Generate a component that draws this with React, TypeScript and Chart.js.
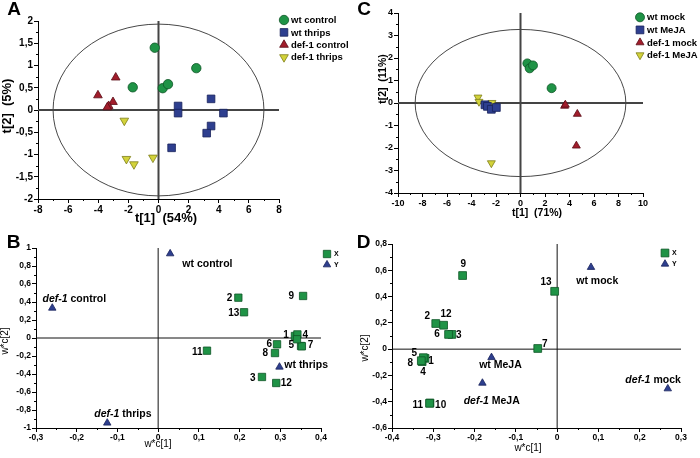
import React, { useEffect, useRef } from 'react';
import { Chart, registerables } from 'chart.js';
import { drawPoint } from 'chart.js/helpers';

Chart.register(...registerables);

const FAMILY = "'Liberation Sans', Arial, Helvetica, sans-serif";
const GREEN = '#1f9346';
const GREEN_B = '#0e5526';
const BLUE = '#2e3f8f';
const BLUE_B = '#18225a';
const RED = '#a11d2b';
const RED_B = '#5a0d16';
const YELLOW = '#d2d23a';
const YELLOW_B = '#7d7d1a';

// ---------------- Panel A (scores) ----------------
const aSeriesLabels = ['wt control', 'wt thrips', 'def-1 control', 'def-1 thrips'];
const aWtControlX = [-0.25, 2.51, -1.71, 0.28, 0.63];
const aWtControlY = [1.40, 0.94, 0.51, 0.49, 0.58];
const aWtThripsX = [1.30, 1.30, 3.49, 4.31, 3.49, 3.20, 0.87];
const aWtThripsY = [0.09, -0.07, 0.25, -0.07, -0.36, -0.52, -0.85];
const aDefControlX = [-2.84, -4.02, -3.02, -3.31, -3.40];
const aDefControlY = [0.73, 0.33, 0.18, 0.09, 0.06];
const aDefThripsX = [-2.27, -2.13, -1.63, -0.37];
const aDefThripsY = [-0.24, -1.10, -1.22, -1.07];
const aEllipse = { rx: 7.0, ry: 1.93 };

// ---------------- Panel C (scores) ----------------
const cSeriesLabels = ['wt mock', 'wt MeJA', 'def-1 mock', 'def-1 MeJA'];
const cWtMockX = [0.56, 0.75, 1.02, 2.54];
const cWtMockY = [1.76, 1.54, 1.67, 0.66];
const cWtMejaX = [-2.90, -2.70, -2.38, -1.97];
const cWtMejaY = [-0.08, -0.15, -0.28, -0.20];
const cDefMockX = [3.60, 3.66, 4.64, 4.56];
const cDefMockY = [-0.13, -0.08, -0.49, -1.90];
const cDefMejaX = [-3.47, -3.39, -2.33, -2.38];
const cDefMejaY = [0.25, 0.06, 0.01, -2.67];
const cEllipse = { rx: 8.6, ry: 3.27 };

// ---------------- Panel B (loadings) ----------------
const bXNames = ['1', '2', '3', '4', '5', '6', '7', '8', '9', '', '11', '12', '13'];
const bXx = [0.336, 0.197, 0.255, 0.342, 0.351, 0.292, 0.353, 0.287, 0.356, 0.341, 0.120, 0.290, 0.211];
const bXy = [0.022, 0.448, -0.433, 0.040, -0.089, -0.070, -0.092, -0.167, 0.467, -0.014, -0.141, -0.500, 0.286];
const bYNames = ['wt control', '_def-1_ control', '_def-1_ thrips', 'wt thrips'];
const bYx = [0.0295, -0.260, -0.125, 0.298];
const bYy = [0.937, 0.333, -0.944, -0.322];
// label placement (text centre relative to marker, px)
const bXLabelDx = [-9, -8.7, -9.3, 8, -9.7, -7.7, 8.6, -9.7, -11.7, 0, -9.7, 10, -10.3];
const bXLabelDy = [-1, 1, 1.7, 0.5, -1, 0, -1, 0, 0, 0, 1.7, 0, 0.7];
const bYLabelDx = [37.3, 22, 15.7, 26.7];
const bYLabelDy = [10.3, -9, -9, -1.7];

// ---------------- Panel D (loadings) ----------------
const dXNames = ['1', '2', '3', '4', '5', '6', '7', '8', '9', '10', '11', '12', '13'];
const dXx = [-0.320, -0.294, -0.255, -0.327, -0.324, -0.263, -0.047, -0.329, -0.229, -0.308, -0.309, -0.275, -0.006];
const dXy = [-0.070, 0.195, 0.112, -0.095, -0.065, 0.112, 0.005, -0.088, 0.560, -0.410, -0.412, 0.182, 0.440];
const dYNames = ['wt mock', 'wt MeJA', '_def-1_ MeJA', '_def-1_ mock'];
const dYx = [0.082, -0.159, -0.181, 0.268];
const dYy = [0.623, -0.063, -0.258, -0.301];
const dXLabelDx = [5.9, -8.4, 7, 0.8, -9.2, -11.6, 7, -11.1, 0.6, 10.7, -11.7, 2.4, -8.7];
const dXLabelDy = [2.5, -7.3, 0.7, 10.2, -4.3, 0, -4, 2.7, -11.3, 2, 2, -11, -8.7];
const dYLabelDx = [6.3, 9, 9.3, -14.7];
const dYLabelDy = [14.3, 8, 18.3, -9];

const zip = (xs: number[], ys: number[]) => xs.map((x, i) => ({ x, y: ys[i] }));
const fmt = (v: number) => String(Math.round(v * 1000) / 1000).replace('.', ',');

const circle = (bg: string, bd: string, r = 4.5) => ({ pointStyle: 'circle', pointRadius: r, pointRotation: 0, pointBackgroundColor: bg, pointBorderColor: bd, pointBorderWidth: 0.8 });
const square = (bg: string, bd: string, r = 5.2) => ({ pointStyle: 'rect', pointRadius: r, pointRotation: 0, pointBackgroundColor: bg, pointBorderColor: bd, pointBorderWidth: 0.8 });
const tri = (bg: string, bd: string, r = 4.4, rot = 0) => ({ pointStyle: 'triangle', pointRadius: r, pointRotation: rot, pointBackgroundColor: bg, pointBorderColor: bd, pointBorderWidth: 0.8 });

type Txt = { text: string; x: number; y: number; size: number; weight: string; rot?: boolean };
type LabelGroup = { ds: number; texts: string[]; dx: number[]; dy: number[]; size: number };
type PanelCfg = {
  key: string;
  left: number; top: number; w: number; h: number;
  area: { l: number; r: number; t: number; b: number };
  x: { min: number; max: number; step: number };
  y: { min: number; max: number; step: number };
  tickSize: number;
  datasets: any[];
  ellipse?: { rx: number; ry: number };
  zero: { color: string; width: number };
  legend: { x: number; y: number; dy: number; tx: number; size: number; names: string[] };
  letter: { text: string; x: number; y: number };
  xTitle: Txt; yTitle: Txt;
  labels: LabelGroup[];
};

function drawRich(ctx: CanvasRenderingContext2D, text: string, cx: number, cy: number, size: number, weight = 'bold') {
  const parts = text.split('_');
  const fonts = parts.map((_, i) => `${i % 2 === 1 ? 'italic ' : ''}${weight} ${size}px ${FAMILY}`);
  let total = 0;
  const widths = parts.map((p, i) => { ctx.font = fonts[i]; const w = ctx.measureText(p).width; total += w; return w; });
  let x = cx - total / 2;
  ctx.textAlign = 'left';
  ctx.textBaseline = 'middle';
  parts.forEach((p, i) => { ctx.font = fonts[i]; ctx.fillText(p, x, cy); x += widths[i]; });
}

function makeDeco(cfg: PanelCfg) {
  return {
    id: 'deco_' + cfg.key,
    beforeDatasetsDraw(chart: any) {
      const { ctx, chartArea: a, scales: { x, y } } = chart;
      ctx.save();
      if (cfg.ellipse) {
        const cx = x.getPixelForValue(0), cy = y.getPixelForValue(0);
        const rx = Math.abs(x.getPixelForValue(cfg.ellipse.rx) - cx);
        const ry = Math.abs(y.getPixelForValue(cfg.ellipse.ry) - cy);
        ctx.beginPath();
        ctx.ellipse(cx, cy, rx, ry, 0, 0, Math.PI * 2);
        ctx.strokeStyle = '#333';
        ctx.lineWidth = 0.9;
        ctx.stroke();
      }
      const zx = x.getPixelForValue(0), zy = y.getPixelForValue(0);
      ctx.beginPath();
      ctx.moveTo(zx, a.top); ctx.lineTo(zx, a.bottom);
      ctx.moveTo(a.left, zy); ctx.lineTo(a.right, zy);
      ctx.strokeStyle = cfg.zero.color;
      ctx.lineWidth = cfg.zero.width;
      ctx.stroke();
      ctx.restore();
    },
    afterDraw(chart: any) {
      const { ctx, chartArea: a, scales: { x, y } } = chart;
      ctx.save();
      // minor ticks
      ctx.strokeStyle = '#000';
      ctx.lineWidth = 1;
      ctx.beginPath();
      for (let i = 0; i < x.ticks.length - 1; i++) {
        const px = Math.round(x.getPixelForValue((x.ticks[i].value + x.ticks[i + 1].value) / 2)) + 0.5;
        ctx.moveTo(px, a.bottom); ctx.lineTo(px, a.bottom + 2);
      }
      for (let i = 0; i < y.ticks.length - 1; i++) {
        const py = Math.round(y.getPixelForValue((y.ticks[i].value + y.ticks[i + 1].value) / 2)) + 0.5;
        ctx.moveTo(a.left - 2, py); ctx.lineTo(a.left, py);
      }
      ctx.stroke();
      // point labels
      ctx.fillStyle = '#000';
      cfg.labels.forEach((g) => {
        const meta = chart.getDatasetMeta(g.ds);
        g.texts.forEach((t, i) => {
          if (!t) return;
          const el = meta.data[i];
          drawRich(ctx, t, el.x + g.dx[i], el.y + g.dy[i], g.size);
        });
      });
      // legend
      const L = cfg.legend;
      chart.data.datasets.forEach((ds: any, i: number) => {
        const yy = L.y + i * L.dy;
        ctx.fillStyle = ds.pointBackgroundColor;
        ctx.strokeStyle = ds.pointBorderColor;
        ctx.lineWidth = ds.pointBorderWidth;
        drawPoint(ctx, { pointStyle: ds.pointStyle, radius: ds.pointRadius, rotation: ds.pointRotation, borderWidth: ds.pointBorderWidth }, L.x, yy);
        ctx.fillStyle = '#000';
        ctx.font = `bold ${L.size}px ${FAMILY}`;
        ctx.textAlign = 'left';
        ctx.textBaseline = 'middle';
        ctx.fillText(L.names[i], L.tx, yy + 0.5);
      });
      // axis titles
      [cfg.xTitle, cfg.yTitle].forEach((t) => {
        ctx.save();
        ctx.translate(t.x, t.y);
        if (t.rot) ctx.rotate(-Math.PI / 2);
        ctx.fillStyle = '#000';
        ctx.font = `${t.weight} ${t.size}px ${FAMILY}`;
        ctx.textAlign = 'center';
        ctx.textBaseline = 'middle';
        ctx.fillText(t.text, 0, 0);
        ctx.restore();
      });
      // panel letter
      ctx.fillStyle = '#000';
      ctx.font = `bold 19px ${FAMILY}`;
      ctx.textAlign = 'center';
      ctx.textBaseline = 'middle';
      ctx.fillText(cfg.letter.text, cfg.letter.x, cfg.letter.y);
      ctx.restore();
    },
  };
}

function buildConfig(cfg: PanelCfg): any {
  const tickFont = { family: FAMILY, size: cfg.tickSize, weight: 'bold' };
  const axis = (r: { min: number; max: number; step: number }, pos: string, fit: (s: any) => void) => ({
    type: 'linear',
    position: pos,
    min: r.min,
    max: r.max,
    afterFit: fit,
    ticks: { stepSize: r.step, font: tickFont, color: '#000', padding: 1, maxRotation: 0, autoSkip: false, callback: (v: number) => fmt(v) },
    grid: { drawOnChartArea: false, drawTicks: true, tickLength: 4, tickColor: '#000', tickWidth: 1 },
    border: { display: true, color: '#000', width: 1 },
    title: { display: false },
  });
  return {
    type: 'scatter',
    data: { datasets: cfg.datasets },
    options: {
      responsive: false,
      animation: false,
      events: [],
      layout: { padding: { left: 0, top: cfg.area.t, right: cfg.w - cfg.area.r, bottom: 0 } },
      plugins: { legend: { display: false }, tooltip: { enabled: false } },
      scales: {
        x: axis(cfg.x, 'bottom', (s: any) => { s.height = cfg.h - cfg.area.b; }),
        y: axis(cfg.y, 'left', (s: any) => { s.width = cfg.area.l; }),
      },
    },
    plugins: [makeDeco(cfg)],
  };
}

const panels: PanelCfg[] = [
  {
    key: 'A', left: 0, top: 0, w: 350, h: 228,
    area: { l: 38, r: 279, t: 21, b: 199 },
    x: { min: -8, max: 8, step: 2 }, y: { min: -2, max: 2, step: 0.5 },
    tickSize: 10,
    datasets: [
      { label: aSeriesLabels[0], data: zip(aWtControlX, aWtControlY), ...circle(GREEN, GREEN_B, 4.7) },
      { label: aSeriesLabels[1], data: zip(aWtThripsX, aWtThripsY), ...square(BLUE, BLUE_B, 5.4) },
      { label: aSeriesLabels[2], data: zip(aDefControlX, aDefControlY), ...tri(RED, RED_B, 5.0) },
      { label: aSeriesLabels[3], data: zip(aDefThripsX, aDefThripsY), ...tri(YELLOW, YELLOW_B, 5.0, 180) },
    ],
    ellipse: aEllipse,
    zero: { color: '#444', width: 2 },
    legend: { x: 284, y: 20, dy: 12.4, tx: 291, size: 9.5, names: aSeriesLabels },
    letter: { text: 'A', x: 14, y: 10 },
    xTitle: { text: 't[1]  (54%)', x: 166, y: 218, size: 13, weight: 'bold' },
    yTitle: { text: 't[2]  (5%)', x: 7, y: 106, size: 13, weight: 'bold', rot: true },
    labels: [],
  },
  {
    key: 'C', left: 350, top: 0, w: 350, h: 228,
    area: { l: 48, r: 293, t: 13, b: 193 },
    x: { min: -10, max: 10, step: 2 }, y: { min: -4, max: 4, step: 1 },
    tickSize: 9,
    datasets: [
      { label: cSeriesLabels[0], data: zip(cWtMockX, cWtMockY), ...circle(GREEN, GREEN_B, 4.5) },
      { label: cSeriesLabels[1], data: zip(cWtMejaX, cWtMejaY), ...square(BLUE, BLUE_B, 5.5) },
      { label: cSeriesLabels[2], data: zip(cDefMockX, cDefMockY), ...tri(RED, RED_B, 4.6) },
      { label: cSeriesLabels[3], data: zip(cDefMejaX, cDefMejaY), ...tri(YELLOW, YELLOW_B, 4.6, 180) },
    ],
    ellipse: cEllipse,
    zero: { color: '#444', width: 2 },
    legend: { x: 290, y: 17.3, dy: 12.6, tx: 297, size: 9.5, names: cSeriesLabels },
    letter: { text: 'C', x: 14, y: 10 },
    xTitle: { text: 't[1]  (71%)', x: 187, y: 213, size: 10.5, weight: 'bold' },
    yTitle: { text: 't[2]  (11%)', x: 33, y: 79, size: 10.5, weight: 'bold', rot: true },
    labels: [],
  },
  {
    key: 'B', left: 0, top: 228, w: 350, h: 230,
    area: { l: 36, r: 321, t: 20, b: 200 },
    x: { min: -0.3, max: 0.4, step: 0.1 }, y: { min: -1, max: 1, step: 0.2 },
    tickSize: 8.5,
    datasets: [
      { label: 'X', data: zip(bXx, bXy), ...square(GREEN, GREEN_B, 5.2) },
      { label: 'Y', data: zip(bYx, bYy), ...tri(BLUE, BLUE_B, 4.3) },
    ],
    zero: { color: '#111', width: 1 },
    legend: { x: 327, y: 26, dy: 10.7, tx: 334, size: 7, names: ['X', 'Y'] },
    letter: { text: 'B', x: 13.5, y: 14.5 },
    xTitle: { text: 'w*c[1]', x: 158, y: 216, size: 10, weight: 'normal' },
    yTitle: { text: 'w*c[2]', x: 5.5, y: 113, size: 10, weight: 'normal', rot: true },
    labels: [
      { ds: 0, texts: bXNames, dx: bXLabelDx, dy: bXLabelDy, size: 10 },
      { ds: 1, texts: bYNames, dx: bYLabelDx, dy: bYLabelDy, size: 10.5 },
    ],
  },
  {
    key: 'D', left: 350, top: 228, w: 350, h: 230,
    area: { l: 42, r: 331, t: 16, b: 200 },
    x: { min: -0.4, max: 0.3, step: 0.1 }, y: { min: -0.6, max: 0.8, step: 0.2 },
    tickSize: 8.5,
    datasets: [
      { label: 'X', data: zip(dXx, dXy), ...square(GREEN, GREEN_B, 5.5) },
      { label: 'Y', data: zip(dYx, dYy), ...tri(BLUE, BLUE_B, 4.3) },
    ],
    zero: { color: '#111', width: 1 },
    legend: { x: 315, y: 25, dy: 11, tx: 322, size: 7, names: ['X', 'Y'] },
    letter: { text: 'D', x: 13.5, y: 14.5 },
    xTitle: { text: 'w*c[1]', x: 178, y: 220, size: 10, weight: 'normal' },
    yTitle: { text: 'w*c[2]', x: 15, y: 120, size: 10, weight: 'normal', rot: true },
    labels: [
      { ds: 0, texts: dXNames, dx: dXLabelDx, dy: dXLabelDy, size: 10 },
      { ds: 1, texts: dYNames, dx: dYLabelDx, dy: dYLabelDy, size: 10.5 },
    ],
  },
];

function PanelChart({ cfg }: { cfg: PanelCfg }) {
  const ref = useRef<HTMLCanvasElement>(null);
  useEffect(() => {
    if (!ref.current) return;
    const chart = new Chart(ref.current, buildConfig(cfg));
    return () => chart.destroy();
  }, [cfg]);
  return (
    <canvas
      ref={ref}
      width={cfg.w}
      height={cfg.h}
      style={{ position: 'absolute', left: cfg.left, top: cfg.top, width: cfg.w, height: cfg.h }}
    />
  );
}

export default function App() {
  return (
    <div style={{ position: 'absolute', left: 0, top: 0, width: 700, height: 458, background: '#fff', overflow: 'hidden' }}>
      {panels.map((p) => (
        <PanelChart key={p.key} cfg={p} />
      ))}
    </div>
  );
}
